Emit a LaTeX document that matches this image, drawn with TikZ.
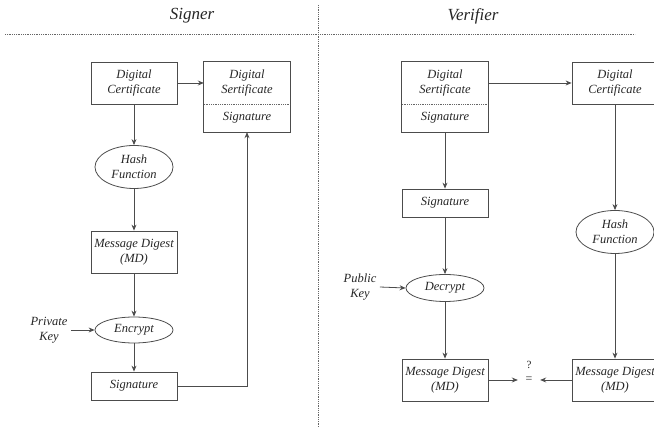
\documentclass[tikz,border=0pt]{standalone}
\usepackage{fontspec}
\setmainfont{Liberation Serif}
\usetikzlibrary{shapes.geometric,arrows.meta}

\begin{document}
\begin{tikzpicture}[x=1pt,y=-1pt,
  font=\itshape\fontsize{12.5}{15}\selectfont,
  every node/.style={text=black!85},
  box/.style={draw=black!70,line width=.8pt,minimum width=86pt,minimum height=42pt,inner sep=0pt,align=center},
  half/.style={minimum width=86pt,inner sep=0pt,align=center},
  oval/.style={ellipse,draw=black!70,line width=.8pt,minimum width=78pt,inner sep=0pt,align=center},
  arr/.style={draw=black!70,line width=.8pt,-{Stealth[length=6pt,width=5pt]}},
  sep/.style={draw=black!60,line width=.6pt,dash pattern=on .8pt off 1pt}]
\useasboundingbox (0,0) rectangle (654,427);
\clip (0,0) rectangle (654,427);

\node[font=\itshape\fontsize{17}{20}\selectfont] (signer) at (192,16) {Signer};
\node[font=\itshape\fontsize{17}{20}\selectfont] (verifier) at (473,16) {Verifier};
\draw[sep] (5,34) -- (635,34);
\draw[sep] (318,5) -- (318,427);

% signer
\node[box] (dcS) at (134,83) {Digital\\Certificate};
\node[oval,minimum height=43pt] (hashS) at (134,167) {Hash\\Function};
\node[box] (mdS) at (134,252) {Message Digest\\(MD)};
\node[oval,minimum height=26pt] (encS) at (134,330) {Encrypt};
\node[box,minimum height=28pt] (sigS) at (134,386) {Signature};
\node[align=center] (privS) at (49,330) {Private\\Key};
\node[half,minimum height=42pt] (certS) at (247,83) {Digital\\Sertificate};
\node[half,minimum height=28pt] (signS) at (247,118) {Signature};
\draw[black!70,line width=.8pt] (certS.north west) rectangle (signS.south east);
\draw[sep] (certS.south west) -- (certS.south east);

% verifier
\node[half,minimum height=42pt] (certV) at (445,83) {Digital\\Sertificate};
\node[half,minimum height=28pt] (signV) at (445,118) {Signature};
\draw[black!70,line width=.8pt] (certV.north west) rectangle (signV.south east);
\draw[sep] (certV.south west) -- (certV.south east);
\node[box] (dcV) at (615,83) {Digital\\Certificate};
\node[box,minimum height=28pt] (sigV) at (445,203) {Signature};
\node[oval,minimum height=27pt] (decV) at (445,288) {Decrypt};
\node[align=center] (pubV) at (360,287) {Public\\Key};
\node[oval,minimum height=43pt] (hashV) at (615,232) {Hash\\Function};
\node[box] (mdV) at (445,380) {Message Digest\\(MD)};
\node[box] (mdW) at (615,380) {Message Digest\\(MD)};
\node[font=\fontsize{12}{14}\selectfont,minimum width=22pt,inner sep=0pt] (eq) at (529,380) {=};
\node[font=\fontsize{11}{13}\selectfont] (qm) at (529,365) {?};

\foreach \a/\b in {dcS/hashS,hashS/mdS,mdS/encS,encS/sigS,signV/sigV,sigV/decV,decV/mdV,dcV/hashV,hashV/mdW}
  \draw[arr] (\a) -- (\b);
\draw[arr] (privS.east) -- (encS.west);
\draw[arr] (pubV.east) -- (decV.west);
\draw[arr] (dcS.east) -- (certS.west);
\draw[arr] (certV.east) -- (dcV.west);
\draw[arr] (sigS.east) -| (signS.south);
\draw[arr] (mdV.east) -- (eq.west);
\draw[arr] (mdW.west) -- (eq.east);
\end{tikzpicture}
\end{document}
